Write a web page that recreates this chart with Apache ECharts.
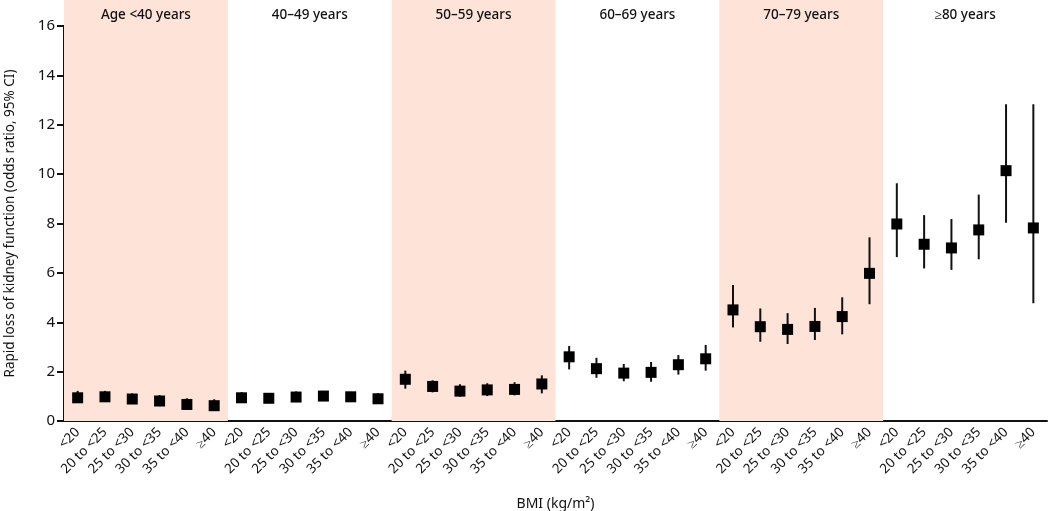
<!DOCTYPE html>
<html>
<head>
<meta charset="utf-8">
<script src="https://cdn.jsdelivr.net/npm/echarts@6/dist/echarts.min.js"></script>
<style>
  html, body { margin: 0; padding: 0; background: #fff; }
  #container { width: 1050px; height: 511px; }
</style>
</head>
<body>
<div id="container"></div>
<script>
var ageGroups = ['Age <40 years', '40–49 years', '50–59 years', '60–69 years', '70–79 years', '≥80 years'];
var bmiLabels = ['<20', '20 to <25', '25 to <30', '30 to <35', '35 to <40', '≥40'];

// odds ratio per BMI class, one row per age group
var oddsRatio = [
    0.94, 0.98, 0.89, 0.81, 0.67, 0.62,
    0.94, 0.92, 0.97, 1.01, 0.98, 0.90,
    1.69, 1.40, 1.21, 1.26, 1.28, 1.50,
    2.60, 2.12, 1.94, 1.97, 2.28, 2.52,
    4.50, 3.82, 3.71, 3.83, 4.23, 5.98,
    7.98, 7.16, 7.01, 7.74, 10.14, 7.82
];
var ciLow = [
    0.75, 0.78, 0.70, 0.60, 0.46, 0.42,
    0.76, 0.76, 0.80, 0.82, 0.80, 0.72,
    1.31, 1.16, 0.99, 1.01, 1.04, 1.12,
    2.09, 1.75, 1.61, 1.59, 1.88, 2.04,
    3.79, 3.21, 3.12, 3.28, 3.51, 4.73,
    6.64, 6.18, 6.12, 6.55, 8.03, 4.77
];
var ciHigh = [
    1.22, 1.22, 1.12, 1.05, 0.92, 0.88,
    1.17, 1.12, 1.20, 1.22, 1.18, 1.12,
    2.04, 1.65, 1.49, 1.53, 1.57, 1.85,
    3.04, 2.56, 2.31, 2.39, 2.67, 3.08,
    5.51, 4.56, 4.37, 4.58, 5.01, 7.44,
    9.63, 8.34, 8.18, 9.17, 12.83, 12.83
];

var font = 'Noto Sans';
var shade = '#fde3d8';

var xLabels = [];
ageGroups.forEach(function () {
    bmiLabels.forEach(function (b) { xLabels.push(b); });
});

var points = oddsRatio.map(function (v, i) { return [i, v]; });
var bars = ciLow.map(function (lo, i) { return [i, lo, ciHigh[i]]; });

var bands = ageGroups.map(function (g, i) {
    return {
        value: 1,
        itemStyle: { color: i % 2 == 0 ? shade : 'rgba(255,255,255,0)' }
    };
});

var myChart = echarts.init(document.getElementById('container'));

var option = {
    animation: false,
    backgroundColor: '#fff',
    grid: [
        { left: 64, right: 3, top: 26, bottom: 90, containLabel: false, outerBoundsMode: 'none' },
        { left: 64, right: 3, top: 0, bottom: 90, containLabel: false, outerBoundsMode: 'none' }
    ],
    xAxis: [
        {
            type: 'category',
            gridIndex: 0,
            data: xLabels,
            axisLine: { lineStyle: { color: '#111', width: 2 } },
            axisTick: { alignWithLabel: true, length: 7, lineStyle: { color: '#111', width: 2 } },
            axisLabel: {
                interval: 0, rotate: 45, fontFamily: font, fontSize: 13.5, color: '#111', margin: 9
            },
            name: 'BMI (kg/m²)',
            nameLocation: 'middle',
            nameGap: 76,
            nameTextStyle: { fontFamily: font, fontSize: 14, color: '#111' }
        },
        {
            type: 'category',
            gridIndex: 1,
            data: ageGroups,
            show: false
        }
    ],
    yAxis: [
        {
            type: 'value',
            gridIndex: 0,
            min: 0,
            max: 16,
            interval: 2,
            axisLine: { show: true, lineStyle: { color: '#111', width: 2 } },
            axisTick: { show: true, length: 7, lineStyle: { color: '#111', width: 2 } },
            splitLine: { show: false },
            axisLabel: { fontFamily: font, fontSize: 15, color: '#111', margin: 9 },
            name: 'Rapid loss of kidney function (odds ratio, 95% CI)',
            nameLocation: 'middle',
            nameGap: 47,
            nameTextStyle: { fontFamily: font, fontSize: 13.5, color: '#111' }
        },
        {
            type: 'value',
            gridIndex: 1,
            min: 0,
            max: 1,
            show: false
        }
    ],
    series: [
        {
            name: 'bands',
            type: 'bar',
            xAxisIndex: 1,
            yAxisIndex: 1,
            data: bands,
            barCategoryGap: 0,
            z: 0,
            silent: true,
            label: {
                show: true,
                position: 'insideTop',
                distance: 8,
                formatter: '{b}',
                fontFamily: font,
                fontSize: 13.5,
                fontWeight: 500,
                color: '#111'
            }
        },
        {
            name: 'CI',
            type: 'custom',
            xAxisIndex: 0,
            yAxisIndex: 0,
            data: bars,
            z: 3,
            renderItem: function (params, api) {
                var top = api.coord([api.value(0), api.value(2)]);
                var bottom = api.coord([api.value(0), api.value(1)]);
                return {
                    type: 'line',
                    shape: { x1: top[0], y1: top[1], x2: bottom[0], y2: bottom[1] },
                    style: { stroke: '#111', lineWidth: 2 }
                };
            }
        },
        {
            name: 'OR',
            type: 'scatter',
            xAxisIndex: 0,
            yAxisIndex: 0,
            data: points,
            symbol: 'rect',
            symbolSize: 11,
            itemStyle: { color: '#000', opacity: 1 },
            z: 4
        }
    ]
};
myChart.setOption(option);
</script>
</body>
</html>
